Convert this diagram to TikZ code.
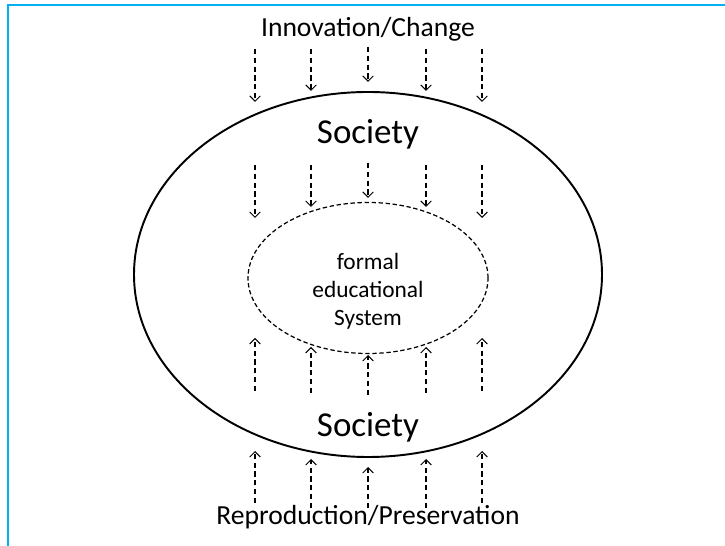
\documentclass[tikz,border=0pt]{standalone}
\usepackage{fontspec}
\setmainfont{Carlito}
\usepackage{xcolor}
\usepackage{tikz}
\usetikzlibrary{arrows.meta, shapes.geometric}

\definecolor{frameblue}{RGB}{0,176,240}

\begin{document}
\begin{tikzpicture}[>={Straight Barb[length=3pt, width=6pt]}, flow/.style={->, dashed, dash pattern=on 3pt off 2pt, line width=0.6pt}]
    \useasboundingbox (-7.36, -5.16) rectangle (7.14, 5.76);
    \draw[frameblue, line width=1.4pt] (-7.2, -5.2) -- (-7.2, 5.66) -- (7.2, 5.66);

    \node[draw, ellipse, line width=1.1pt, minimum width=9.36cm, minimum height=7.3cm] at (0, 0.27) (society) {};
    \node[draw, ellipse, dashed, dash pattern=on 2.5pt off 1.5pt, line width=0.7pt, minimum width=4.8cm, minimum height=3.02cm] at (0, 0.2) (school) {};

    \node[anchor=base, font=\fontsize{15.7}{19}\selectfont] at (0, 5.02) (innovation) {Innovation/Change};
    \node[anchor=base, font=\fontsize{19.9}{24}\selectfont] at (0, 2.88) (societytop) {Society};
    \node[anchor=base, font=\fontsize{19.9}{24}\selectfont] at (0, -2.98) (societybottom) {Society};
    \node[anchor=base, font=\fontsize{15.7}{19}\selectfont] at (0, -4.72) (reproduction) {Reproduction/Preservation};
    \node[align=center, font=\fontsize{13.3}{15.9}\selectfont] at (0, -0.06) (schooltext) {formal\\educational\\System};

    % arrows down from above and onto the school
    \foreach \x/\a/\b/\c/\d [count=\i] in {-2.26/4.78/3.72/2.46/1.4, -1.14/4.78/3.94/2.46/1.62, 0/4.82/4.12/2.5/1.8, 1.16/4.78/3.94/2.46/1.62, 2.28/4.78/3.72/2.46/1.4} {
        \coordinate (in\i) at (\x, \a);
        \coordinate (into\i) at (\x, \b);
        \coordinate (down\i) at (\x, \c);
        \coordinate (downto\i) at (\x, \d);
        \draw[flow] (in\i) -- (into\i);
        \draw[flow] (down\i) -- (downto\i);
    }

    % arrows up from below and onto the school
    \foreach \x/\a/\b/\c/\d [count=\i] in {-2.26/-4.3/-3.26/-2.06/-1.0, -1.14/-4.4/-3.42/-2.1/-1.18, 0/-4.4/-3.58/-2.14/-1.34, 1.16/-4.4/-3.42/-2.1/-1.18, 2.28/-4.3/-3.26/-2.06/-1.0} {
        \coordinate (out\i) at (\x, \a);
        \coordinate (outto\i) at (\x, \b);
        \coordinate (up\i) at (\x, \c);
        \coordinate (upto\i) at (\x, \d);
        \draw[flow] (out\i) -- (outto\i);
        \draw[flow] (up\i) -- (upto\i);
    }
\end{tikzpicture}
\end{document}
